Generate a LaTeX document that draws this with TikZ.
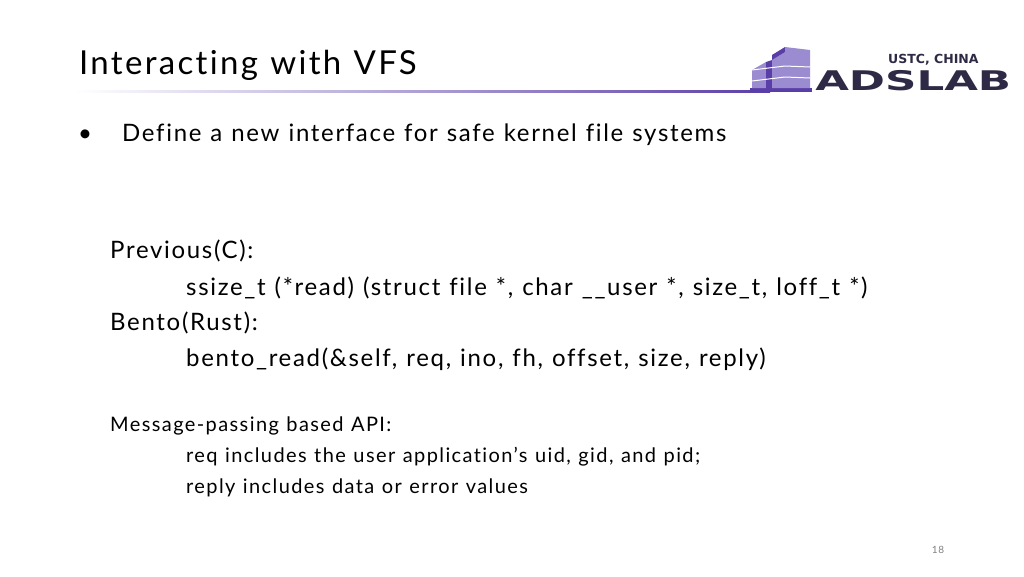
\documentclass[tikz,border=0pt]{standalone}
\usepackage{fontspec}
\setmainfont{Lato}[Ligatures=NoCommon,LetterSpace=7,WordSpace=1.15]
\newfontfamily\logofont{DejaVu Sans}
\definecolor{logoink}{HTML}{2E2A45}
\definecolor{logolight}{HTML}{9B8BD0}
\definecolor{logodark}{HTML}{5A3EA8}
\tikzset{
  body/.style={anchor=base west,inner sep=0pt,font=\fontsize{24}{26}\selectfont},
  small/.style={anchor=base west,inner sep=0pt,font=\fontsize{20}{22}\selectfont}
}
\begin{document}
\begin{tikzpicture}[x=1pt,y=-1pt]
\useasboundingbox (0,0) rectangle (1024,576);
% title and rule
\node[anchor=base west,inner sep=0pt,font=\fontsize{33}{38}\selectfont] (title) at (79,74) {Interacting with VFS};
\shade[left color=white,right color=logodark] (75,90.5) rectangle (770,92.5);
% logo
\fill[logodark] (750,92) rectangle (812,88);
\fill[logolight] (752,88) -- (752,70) -- (766,62) -- (766,88) -- cycle;
\fill[logodark] (766,88) -- (766,62) -- (772,60) -- (772,88) -- cycle;
\fill[logolight] (772,88) -- (772,60) -- (785,52) -- (785,88) -- cycle;
\fill[logodark] (772,60) -- (785,52) -- (785,47) -- (772,55) -- cycle;
\fill[logolight] (785,88) -- (785,47) -- (810,50) -- (810,88) -- cycle;
\foreach \yy in {66,77}{ \draw[white,line width=1pt] (752,\yy+4) -- (785,\yy) -- (810,\yy+1); }
\node[anchor=base west,inner sep=0pt,font=\logofont\bfseries\fontsize{12.5}{12}\selectfont,text=logoink] (ustc) at (888,63) {USTC, CHINA};
\node[anchor=base west,inner sep=0pt,font=\logofont\bfseries\fontsize{33}{33}\selectfont,text=logoink,xscale=1.32,yscale=0.82] (adslab) at (815,90) {ADSLAB};
% bullet
\node[body] (dot) at (78,141) {\textbullet};
\node[body] (define) at (122,141) {Define a new interface for safe kernel file systems};
% code lines
\node[body] (prev) at (110,258) {Previous(C):};
\node[body] (csig) at (186,295) {ssize\_t (*read) (struct file *, char \_\_user *, size\_t, loff\_t *)};
\node[body] (bento) at (110,330) {Bento(Rust):};
\node[body] (rsig) at (186,366) {bento\_read(\&self, req, ino, fh, offset, size, reply)};
\node[small] (msg) at (110,431) {Message-passing based API:};
\node[small] (req) at (186,462) {req includes the user application’s uid, gid, and pid;};
\node[small] (reply) at (186,493) {reply includes data or error values};
\node[anchor=base,inner sep=0pt,font=\fontsize{10}{12}\selectfont,text=gray] (page) at (938,553) {18};
\end{tikzpicture}
\end{document}
